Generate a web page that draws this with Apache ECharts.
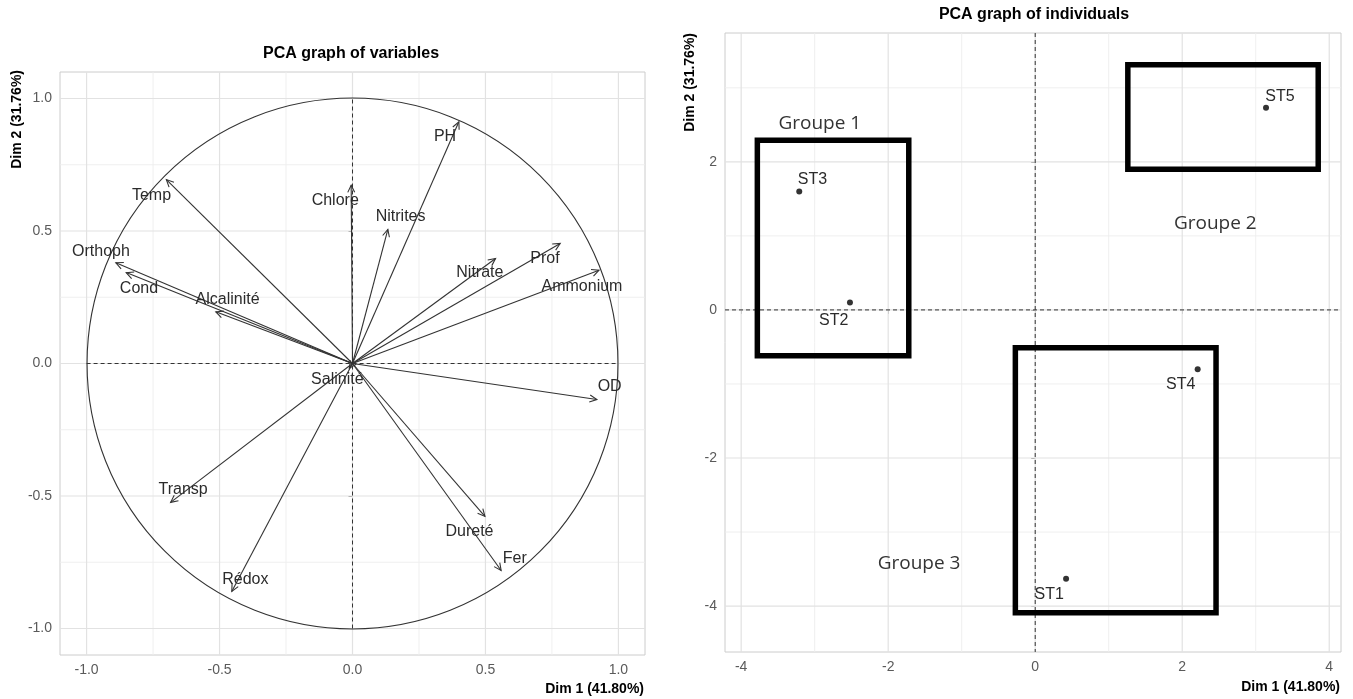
<!DOCTYPE html>
<html>
<head>
<meta charset="utf-8">
<script src="https://cdn.jsdelivr.net/npm/echarts@6/dist/echarts.min.js"></script>
<style>html,body{margin:0;padding:0;background:#fff;}#c{width:1353px;height:699px;}</style>
</head>
<body>
<div id="c"></div>
<script>
// ---------- Variables plot (correlation circle) ----------
const varNames = ['PH','Temp','Chlore','Nitrites','Nitrate','Prof','Ammonium','Orthoph','Cond','Alcalinité','Salinité','OD','Transp','Rédox','Dureté','Fer'];
const varDim1 = [0.40,-0.70,-0.005,0.133,0.538,0.781,0.927,-0.89,-0.851,-0.514,-0.012,0.919,-0.684,-0.454,0.498,0.559];
const varDim2 = [0.912,0.694,0.673,0.506,0.396,0.453,0.352,0.38,0.343,0.195,-0.018,-0.136,-0.524,-0.86,-0.577,-0.781];
const varLabelX = [0.348,-0.756,-0.065,0.181,0.479,0.724,0.863,-0.946,-0.803,-0.47,-0.057,0.967,-0.637,-0.403,0.44,0.61];
const varLabelY = [0.855,0.635,0.613,0.553,0.343,0.394,0.289,0.421,0.283,0.242,-0.061,-0.088,-0.474,-0.816,-0.636,-0.738];
const varMajorTicks = [-1.0,-0.5,0.0,0.5,1.0];
const varMinorTicks = [-0.75,-0.25,0.25,0.75];

// ---------- Individuals plot ----------
const indNames = ['ST1','ST2','ST3','ST4','ST5'];
const indDim1 = [0.42,-2.52,-3.21,2.21,3.14];
const indDim2 = [-3.63,0.10,1.60,-0.80,2.73];
const indLabelX = [0.19,-2.74,-3.03,1.98,3.33];
const indLabelY = [-3.84,-0.14,1.76,-1.01,2.88];
const groupNames = ['Groupe 1','Groupe 2','Groupe 3'];
const groupX1 = [-3.78,1.26,-0.27];
const groupX2 = [-1.72,3.85,2.46];
const groupY1 = [2.29,3.31,-0.51];
const groupY2 = [-0.62,1.90,-4.09];
const groupLabelX = [-2.93,2.45,-1.58];
const groupLabelY = [2.51,1.17,-3.42];
const indXMajorTicks = [-4,-2,0,2,4];
const indXMinorTicks = [-3,-1,1,3];
const indYMajorTicks = [-4,-2,0,2];
const indYMinorTicks = [-3,-1,1,3];

const FONT = '"Liberation Sans", Arial, sans-serif';
const GRID_MAJOR = {stroke:'#e2e2e2', lineWidth:1.2};
const GRID_MINOR = {stroke:'#ededed', lineWidth:0.9};
const DASH = {stroke:'#333', lineWidth:1, lineDash:[4,3]};

function vLines(gi, values, style, z) {
  return {type:'custom', xAxisIndex:gi, yAxisIndex:gi, silent:true, z:z||1,
    data: values.map(v => [v, 0]),
    renderItem: (params, api) => {
      const cs = params.coordSys;
      const x = api.coord([api.value(0), 0])[0];
      return {type:'line', shape:{x1:x, y1:cs.y, x2:x, y2:cs.y+cs.height}, style:style};
    }};
}
function hLines(gi, values, style, z) {
  return {type:'custom', xAxisIndex:gi, yAxisIndex:gi, silent:true, z:z||1,
    data: values.map(v => [0, v]),
    renderItem: (params, api) => {
      const cs = params.coordSys;
      const y = api.coord([0, api.value(1)])[1];
      return {type:'line', shape:{x1:cs.x, y1:y, x2:cs.x+cs.width, y2:y}, style:style};
    }};
}

function axis(gi, min, max, ticks, fmt) {
  return {type:'value', gridIndex:gi, min:min, max:max,
    axisLine:{show:false}, splitLine:{show:false},
    axisTick:{show:true, length:4, lineStyle:{color:'#888'}, customValues:ticks},
    axisLabel:{customValues:ticks, formatter:fmt, color:'#5a5a5a', fontSize:14, fontFamily:FONT, margin:8}};
}
const fmt1 = v => Number(v).toFixed(1);
const fmt0 = v => String(Math.round(v));

const arrowData = varNames.map((n,i) => [varDim1[i], varDim2[i], n]);
const varLabelData = varNames.map((n,i) => [varLabelX[i], varLabelY[i], n]);
const indData = indNames.map((n,i) => [indDim1[i], indDim2[i], n]);
const indLabelData = indNames.map((n,i) => [indLabelX[i], indLabelY[i], n]);
const groupRectData = groupNames.map((n,i) => [groupX1[i], groupY1[i], groupX2[i], groupY2[i]]);
const groupLabelData = groupNames.map((n,i) => [groupLabelX[i], groupLabelY[i], n]);

const textSeries = (gi, data, font, color) => ({
  type:'custom', xAxisIndex:gi, yAxisIndex:gi, silent:true, z:6, data:data,
  renderItem: (params, api) => {
    const p = api.coord([api.value(0), api.value(1)]);
    return {type:'text', x:p[0], y:p[1], style:{text:data[params.dataIndex][2], font:font, fill:color, align:'center', verticalAlign:'middle'}};
  }
});

const option = {
  animation:false,
  backgroundColor:'#fff',
  title:[
    {text:'PCA graph of variables', left:351, top:46, textAlign:'center', padding:0,
     textStyle:{fontFamily:FONT, fontWeight:'bold', fontSize:16, color:'#000'}},
    {text:'PCA graph of individuals', left:1034, top:7, textAlign:'center', padding:0,
     textStyle:{fontFamily:FONT, fontWeight:'bold', fontSize:16, color:'#000'}}
  ],
  grid:[
    {left:60, top:72, width:585, height:583, show:true, borderColor:'#cccccc', borderWidth:1, backgroundColor:'transparent', containLabel:false},
    {left:725, top:33, width:616, height:619, show:true, borderColor:'#cccccc', borderWidth:1, backgroundColor:'transparent', containLabel:false}
  ],
  xAxis:[
    axis(0, -1.1, 1.1, varMajorTicks, fmt1),
    axis(1, -4.22, 4.16, indXMajorTicks, fmt0)
  ],
  yAxis:[
    axis(0, -1.1, 1.1, varMajorTicks, fmt1),
    axis(1, -4.62, 3.74, indYMajorTicks, fmt0)
  ],
  graphic:[
    {type:'text', x:644, y:689, style:{text:'Dim 1 (41.80%)', font:'bold 14px '+FONT, fill:'#000', align:'right', verticalAlign:'middle'}},
    {type:'text', x:17, y:70, rotation:Math.PI/2, style:{text:'Dim 2 (31.76%)', font:'bold 14px '+FONT, fill:'#000', align:'right', verticalAlign:'middle'}},
    {type:'text', x:1340, y:687, style:{text:'Dim 1 (41.80%)', font:'bold 14px '+FONT, fill:'#000', align:'right', verticalAlign:'middle'}},
    {type:'text', x:690, y:33, rotation:Math.PI/2, style:{text:'Dim 2 (31.76%)', font:'bold 14px '+FONT, fill:'#000', align:'right', verticalAlign:'middle'}}
  ],
  series:[
    // grid lines, left
    vLines(0, varMinorTicks, GRID_MINOR), hLines(0, varMinorTicks, GRID_MINOR),
    vLines(0, varMajorTicks, GRID_MAJOR), hLines(0, varMajorTicks, GRID_MAJOR),
    // grid lines, right
    vLines(1, indXMinorTicks, GRID_MINOR), hLines(1, indYMinorTicks, GRID_MINOR),
    vLines(1, indXMajorTicks, GRID_MAJOR), hLines(1, indYMajorTicks, GRID_MAJOR),
    // left: dashed reference segments inside circle
    {type:'custom', xAxisIndex:0, yAxisIndex:0, silent:true, z:3,
     data:[[0,-1,0,1],[-1,0,1,0]],
     renderItem:(params, api) => {
       const a = api.coord([api.value(0), api.value(1)]);
       const b = api.coord([api.value(2), api.value(3)]);
       return {type:'line', shape:{x1:a[0], y1:a[1], x2:b[0], y2:b[1]}, style:DASH};
     }},
    // left: unit circle
    {type:'custom', xAxisIndex:0, yAxisIndex:0, silent:true, z:3,
     data:[[0,0,1]],
     renderItem:(params, api) => {
       const c = api.coord([api.value(0), api.value(1)]);
       const s = api.size([api.value(2), api.value(2)]);
       return {type:'circle', shape:{cx:c[0], cy:c[1], r:(s[0]+s[1])/2}, style:{fill:'none', stroke:'#333', lineWidth:1.1}};
     }},
    // left: arrows
    {type:'custom', xAxisIndex:0, yAxisIndex:0, silent:true, z:4,
     data:arrowData,
     renderItem:(params, api) => {
       const o = api.coord([0,0]);
       const t = api.coord([api.value(0), api.value(1)]);
       const ang = Math.atan2(t[1]-o[1], t[0]-o[0]);
       const L = 8, w = Math.PI/7;
       const h1 = [t[0]-L*Math.cos(ang-w), t[1]-L*Math.sin(ang-w)];
       const h2 = [t[0]-L*Math.cos(ang+w), t[1]-L*Math.sin(ang+w)];
       const st = {stroke:'#333', lineWidth:1.1, fill:'none'};
       return {type:'group', children:[
         {type:'line', shape:{x1:o[0], y1:o[1], x2:t[0], y2:t[1]}, style:st},
         {type:'polyline', shape:{points:[h1, t, h2]}, style:st}
       ]};
     }},
    textSeries(0, varLabelData, '16px '+FONT, '#2b2b2b'),
    // right: dashed axes through origin
    vLines(1, [0], DASH, 3), hLines(1, [0], DASH, 3),
    // right: group rectangles
    {type:'custom', xAxisIndex:1, yAxisIndex:1, silent:true, z:4,
     data:groupRectData,
     renderItem:(params, api) => {
       const a = api.coord([api.value(0), api.value(1)]);
       const b = api.coord([api.value(2), api.value(3)]);
       return {type:'rect', shape:{x:Math.min(a[0],b[0]), y:Math.min(a[1],b[1]), width:Math.abs(b[0]-a[0]), height:Math.abs(b[1]-a[1])},
               style:{fill:'none', stroke:'#000', lineWidth:5.5}};
     }},
    // right: individuals
    {type:'scatter', xAxisIndex:1, yAxisIndex:1, silent:true, z:5, symbol:'circle', symbolSize:6,
     itemStyle:{color:'#000'}, data:indData},
    textSeries(1, indLabelData, '16px '+FONT, '#2b2b2b'),
    textSeries(1, groupLabelData, '19px "Open Sans", "Noto Sans", sans-serif', '#333')
  ]
};
const chart = echarts.init(document.getElementById('c'), null, {renderer:'canvas'});
chart.setOption(option);
</script>
</body>
</html>
